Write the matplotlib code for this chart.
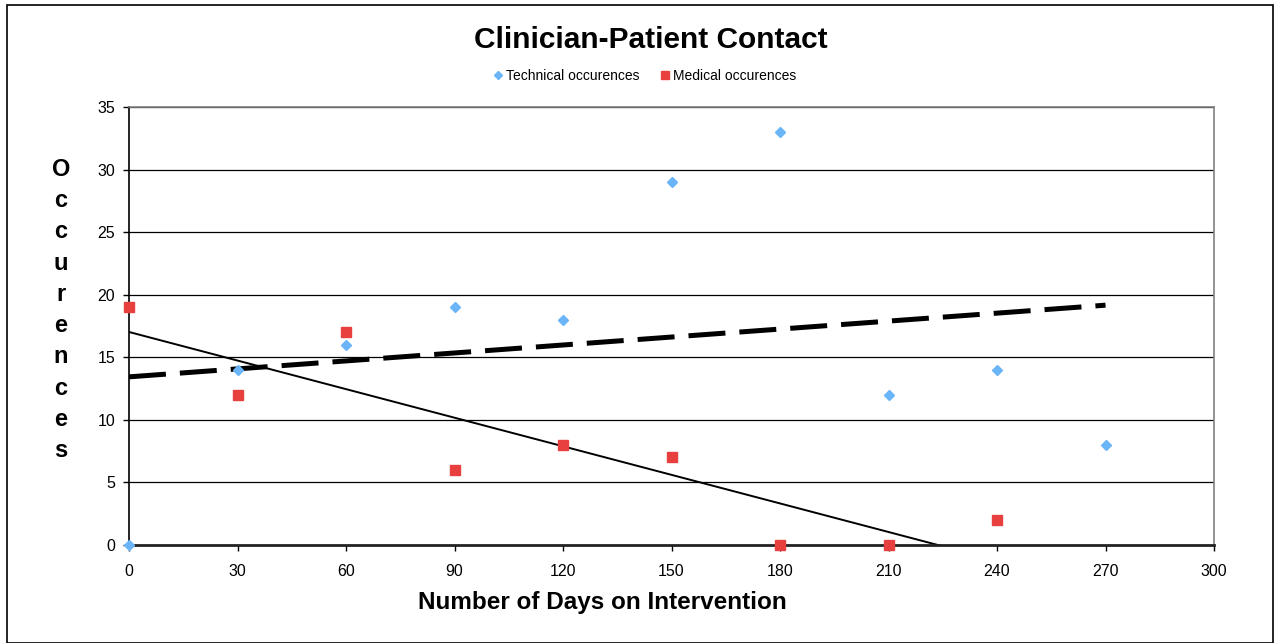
import numpy as np
import matplotlib.pyplot as plt
from matplotlib.patches import Rectangle

plt.rcParams['font.family'] = ['Liberation Sans', 'DejaVu Sans']

# data
days_tech = [0, 30, 60, 90, 120, 150, 180, 210, 240, 270]
tech_occ = [0, 14, 16, 19, 18, 29, 33, 12, 14, 8]
days_med = [0, 30, 60, 90, 120, 150, 180, 210, 240]
med_occ = [19, 12, 17, 6, 8, 7, 0, 0, 2]

x_ticks = [0, 30, 60, 90, 120, 150, 180, 210, 240, 270, 300]
y_ticks = [0, 5, 10, 15, 20, 25, 30, 35]

fig = plt.figure(figsize=(12.79, 6.43), dpi=100)
ax = fig.add_axes([129/1279, 98/643, 1085/1279, 438/643])

# outer chart border
fig.patches.append(Rectangle((7/1279, 0.0), 1266/1279, 638/643, transform=fig.transFigure,
                             fill=False, edgecolor='black', linewidth=1.2))

# gridlines
for y in y_ticks[1:]:
    ax.axhline(y, color='black', linewidth=0.9, zorder=1)

# linear trend lines (same as Excel's)
p_tech = np.polyfit(days_tech, tech_occ, 1)
p_med = np.polyfit(days_med, med_occ, 1)
xt = np.array([days_tech[0], days_tech[-1]])
xm = np.array([days_med[0], days_med[-1]])
ax.plot(xt, np.polyval(p_tech, xt), color='black', linewidth=3.6, linestyle=(0, (7.4, 2.8)), zorder=2)
ax.plot(xm, np.polyval(p_med, xm), color='black', linewidth=1.4, zorder=2)

ax.plot(days_tech, tech_occ, linestyle='none', marker='D', markersize=5.5, color='#6AB4F8',
        label='Technical occurences', clip_on=False, zorder=4)
ax.plot(days_med, med_occ, linestyle='none', marker='s', markersize=7, color='#E8403E',
        label='Medical occurences', clip_on=False, zorder=4)

ax.set_xlim(0, 300)
ax.set_ylim(0, 35)
ax.set_xticks(x_ticks)
ax.set_yticks(y_ticks)
ax.tick_params(axis='both', labelsize=11.5, direction='out', length=4, width=1, color='black')
ax.tick_params(axis='x', pad=10)
ax.tick_params(axis='y', pad=6)

for side in ['top', 'right']:
    ax.spines[side].set_color('#808080')
    ax.spines[side].set_linewidth(1.2)
ax.spines['left'].set_color('black')
ax.spines['left'].set_linewidth(1.2)
ax.spines['bottom'].set_color('#222222')
ax.spines['bottom'].set_linewidth(2)

fig.text(651/1279, 1 - 40/643, 'Clinician-Patient Contact', ha='center', va='center',
         fontsize=21.5, fontweight='bold')

fig.text(602/1279, 1 - 602/643, 'Number of Days on Intervention', ha='center', va='center',
         fontsize=17.5, fontweight='bold')
fig.text(61/1279, 1 - 310/643, '\n'.join('Occurences'), ha='center', va='center',
         fontsize=17, fontweight='bold', linespacing=1.46)

fig.legend(loc='center', bbox_to_anchor=(645/1279, 1 - 76/643), ncol=2, frameon=False,
           fontsize=10, handlelength=0.6, handletextpad=0.3, columnspacing=1.5, markerscale=0.75)

fig.savefig('out.png', dpi=100)
